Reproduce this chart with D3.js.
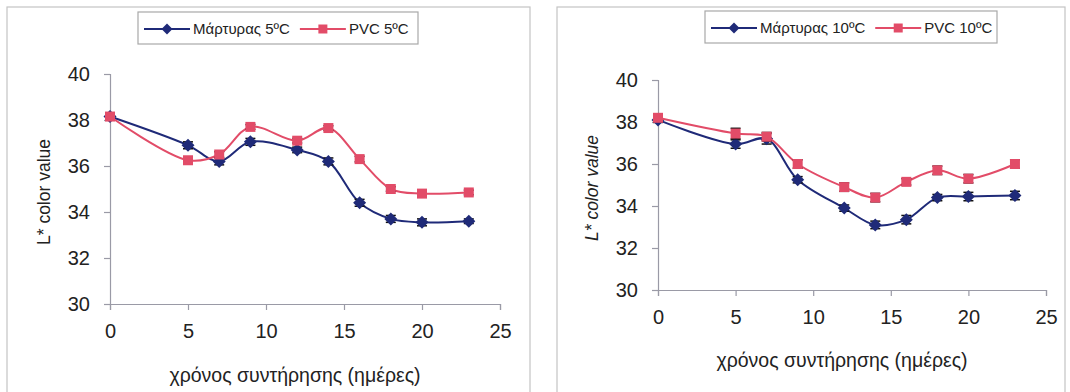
<!DOCTYPE html>
<html>
<head>
<meta charset="utf-8">
<script src="https://cdn.jsdelivr.net/npm/d3@7"></script>
<style>
  body { margin: 0; background: #fff; }
  svg { display: block; font-family: "Liberation Sans", Arial, sans-serif; }
</style>
</head>
<body>
<svg id="chart" width="1070" height="392"></svg>
<script>
// storage days
const days = [0, 5, 7, 9, 12, 14, 16, 18, 20, 23];

// 5ºC panel
const control5 = [38.15, 36.9, 36.2, 37.05, 36.7, 36.2, 34.4, 33.7, 33.55, 33.6];
const control5Err = [0.12, 0.15, 0.15, 0.15, 0.12, 0.15, 0.15, 0.15, 0.15, 0.1];
const pvc5 = [38.15, 36.25, 36.5, 37.7, 37.1, 37.65, 36.3, 35.0, 34.8, 34.85];
const pvc5Err = [0.1, 0.1, 0.12, 0.1, 0.1, 0.1, 0.12, 0.1, 0.1, 0.1];

// 10ºC panel
const control10 = [38.1, 36.95, 37.2, 35.25, 33.9, 33.1, 33.35, 34.4, 34.45, 34.5];
const control10Err = [0.12, 0.2, 0.25, 0.15, 0.15, 0.18, 0.2, 0.15, 0.2, 0.2];
const pvc10 = [38.2, 37.45, 37.3, 36.0, 34.9, 34.4, 35.15, 35.7, 35.3, 36.0];
const pvc10Err = [0.15, 0.25, 0.2, 0.2, 0.2, 0.2, 0.15, 0.2, 0.2, 0.2];

const xTicks = [0, 5, 10, 15, 20, 25];
const yTicks = [30, 32, 34, 36, 38, 40];
const xTitle = "χρόνος συντήρησης (ημέρες)";
const yTitle = "L* color value";

const blue = "#1f2a78";
const red = "#e24c68";

let svg = d3.select("#chart");

// wide diamond like the spreadsheet marker
function marker(sel, type, r) {
  if (type === "diamond") {
    sel.attr("d", `M0,${-r}L${r},0L0,${r}L${-r},0Z`);
  } else {
    sel.attr("d", `M${-r},${-r}H${r}V${r}H${-r}Z`);
  }
}

function drawPanel(p) {
  let g = svg.append("g");

  // panel frame
  g.append("rect")
    .attr("x", p.frame[0]).attr("y", p.frame[1])
    .attr("width", p.frame[2]).attr("height", p.frame[3])
    .attr("fill", "none").attr("stroke", "#c4c4c4").attr("stroke-width", 1.2);

  let x = d3.scaleLinear().domain([0, 25]).range(p.xRange);
  let y = d3.scaleLinear().domain([30, 40]).range(p.yRange);

  let xAxis = g.append("g")
    .attr("transform", `translate(0,${p.yRange[0]})`)
    .call(d3.axisBottom(x).tickValues(xTicks).tickSize(6).tickPadding(14));
  let yAxis = g.append("g")
    .attr("transform", `translate(${p.xRange[0]},0)`)
    .call(d3.axisLeft(y).tickValues(yTicks).tickSize(6).tickPadding(14));

  [xAxis, yAxis].forEach(a => {
    a.attr("font-size", 20).attr("font-family", "Liberation Sans, Arial, sans-serif");
    a.select(".domain").attr("stroke", "#9a9aa6").attr("stroke-width", 1.2);
    a.selectAll(".tick line").attr("stroke", "#9a9aa6").attr("stroke-width", 1.2);
    a.selectAll("text").attr("fill", "#222");
  });

  g.append("text")
    .attr("x", (p.xRange[0] + p.xRange[1]) / 2 - 10)
    .attr("y", p.xTitleY)
    .attr("text-anchor", "middle")
    .attr("font-size", 19.5).attr("fill", "#222")
    .text(xTitle);

  g.append("text")
    .attr("transform", `translate(${p.yTitleX},${(p.yRange[0] + p.yRange[1]) / 2 + 3}) rotate(-90)`)
    .attr("text-anchor", "middle")
    .attr("font-size", 17.5).attr("fill", "#222")
    .attr("font-style", p.italic ? "italic" : "normal")
    .text(yTitle);

  let line = d3.line()
    .x(d => x(d.day)).y(d => y(d.v))
    .curve(d3.curveCatmullRom.alpha(0.5));

  p.series.forEach(s => {
    let pts = days.map((d, i) => ({day: d, v: s.values[i], e: s.err[i]}));

    g.append("path").datum(pts)
      .attr("d", line).attr("fill", "none")
      .attr("stroke", s.color).attr("stroke-width", 2);

    // error bars
    let eb = g.append("g").selectAll("g").data(pts).enter().append("g");
    eb.append("line")
      .attr("x1", d => x(d.day)).attr("x2", d => x(d.day))
      .attr("y1", d => y(d.v - d.e)).attr("y2", d => y(d.v + d.e))
      .attr("stroke", "#111").attr("stroke-width", 1.2);
    [1, -1].forEach(sign => {
      eb.append("line")
        .attr("x1", d => x(d.day) - 5).attr("x2", d => x(d.day) + 5)
        .attr("y1", d => y(d.v + sign * d.e)).attr("y2", d => y(d.v + sign * d.e))
        .attr("stroke", "#111").attr("stroke-width", 1.5);
    });

    g.append("g").selectAll("path").data(pts).enter().append("path")
      .attr("transform", d => `translate(${x(d.day)},${y(d.v)})`)
      .call(marker, s.symbol, s.symbol === "diamond" ? 6.5 : 5)
      .attr("fill", s.color);
  });

  // legend
  let lg = g.append("g");
  lg.append("rect")
    .attr("x", p.legend.x).attr("y", p.legend.y)
    .attr("width", p.legend.w).attr("height", 32)
    .attr("fill", "#fff").attr("stroke", "#a8a8a8").attr("stroke-width", 1.2);
  let lx = p.legend.x + 6;
  let ly = p.legend.y + 17;
  p.series.forEach(s => {
    lg.append("line")
      .attr("x1", lx).attr("x2", lx + 46).attr("y1", ly).attr("y2", ly)
      .attr("stroke", s.color).attr("stroke-width", 2);
    lg.append("path")
      .attr("transform", `translate(${lx + 23},${ly})`)
      .call(marker, s.symbol, s.symbol === "diamond" ? 5.5 : 4.5)
      .attr("fill", s.color);
    let t = lg.append("text")
      .attr("x", lx + 49).attr("y", ly + 5)
      .attr("font-size", 15).attr("fill", "#222")
      .text(s.name);
    lx += 49 + t.node().getComputedTextLength() + 10;
  });
}

drawPanel({
  frame: [7, 7, 523, 400],
  xRange: [110, 500],
  yRange: [304, 74],
  xTitleY: 382,
  yTitleX: 50,
  italic: false,
  legend: {x: 138, y: 12, w: 280},
  series: [
    {name: "Μάρτυρας 5ºC", values: control5, err: control5Err, color: blue, symbol: "diamond"},
    {name: "PVC 5ºC", values: pvc5, err: pvc5Err, color: red, symbol: "square"}
  ]
});

drawPanel({
  frame: [557, 7, 508, 400],
  xRange: [658, 1046],
  yRange: [290, 80],
  xTitleY: 367,
  yTitleX: 598,
  italic: true,
  legend: {x: 705, y: 11, w: 292},
  series: [
    {name: "Μάρτυρας 10ºC", values: control10, err: control10Err, color: blue, symbol: "diamond"},
    {name: "PVC 10ºC", values: pvc10, err: pvc10Err, color: red, symbol: "square"}
  ]
});
</script>
</body>
</html>
